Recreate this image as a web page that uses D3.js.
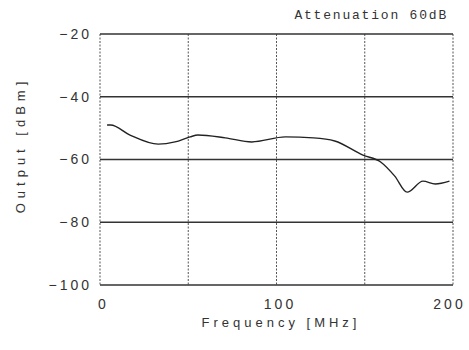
<!DOCTYPE html>
<html>
<head>
<meta charset="utf-8">
<script src="https://cdn.jsdelivr.net/npm/d3@7"></script>
<style>
  body { margin: 0; background: #fff; }
  svg { display: block; }
  .tick text { font-family: "Liberation Sans", sans-serif; fill: #333; }
</style>
</head>
<body>
<div id="chart"></div>
<script>
// curve (MHz, dBm)
const freq = [4, 6, 17, 33, 42.5, 51, 55.5, 71, 86, 105, 121, 133, 149, 159, 167, 174, 183, 190, 198];
const output = [-49.0, -49.0, -52.2, -55.1, -54.4, -52.8, -52.2, -53.1, -54.4, -52.8, -53.1, -54.1, -58.6, -60.8, -65.3, -70.4, -66.9, -67.8, -66.9];
const xTicks = [0, 100, 200];
const yTicks = [-20, -40, -60, -80, -100];
const xGrid = [0, 50, 100, 150, 200];

const width = 469, height = 350;
const margin = { top: 34, right: 16, bottom: 65, left: 100 };

const svg = d3.select('#chart').append('svg')
    .attr('width', width)
    .attr('height', height);

const x = d3.scaleLinear().domain([0, 200]).range([margin.left, width - margin.right]);
const y = d3.scaleLinear().domain([-100, -20]).range([height - margin.bottom, margin.top]);

// vertical grid (dotted)
svg.append('g')
    .selectAll('line')
    .data(xGrid)
    .enter().append('line')
    .attr('x1', d => x(d)).attr('x2', d => x(d))
    .attr('y1', y(-20)).attr('y2', y(-100))
    .attr('stroke', '#555')
    .attr('stroke-width', 1)
    .attr('stroke-dasharray', '2,1.5');

// horizontal grid (solid)
svg.append('g')
    .selectAll('line')
    .data(yTicks)
    .enter().append('line')
    .attr('x1', x(0)).attr('x2', x(200))
    .attr('y1', d => y(d)).attr('y2', d => y(d))
    .attr('stroke', '#333')
    .attr('stroke-width', 1.3);

// y axis labels
const yAxis = svg.append('g')
    .attr('transform', `translate(${x(0) - 8},0)`)
    .call(d3.axisLeft(y).tickValues(yTicks).tickSize(0).tickPadding(0)
        .tickFormat(d => '\u2212' + Math.abs(d)));
yAxis.select('.domain').remove();
yAxis.selectAll('text')
    .attr('font-size', 14)
    .attr('letter-spacing', '3px');

// x axis labels
const xAxis = svg.append('g')
    .attr('transform', `translate(0,${y(-100) + 14})`)
    .call(d3.axisBottom(x).tickValues(xTicks).tickSize(0).tickPadding(0));
xAxis.select('.domain').remove();
xAxis.selectAll('text')
    .attr('font-size', 14)
    .attr('letter-spacing', '3px')
    .attr('dx', d => d === 200 ? '-4px' : '3px');

// curve
const line = d3.line()
    .x((d, i) => x(freq[i]))
    .y(d => y(d))
    .curve(d3.curveMonotoneX);

svg.append('path')
    .datum(output)
    .attr('d', line)
    .attr('fill', 'none')
    .attr('stroke', '#222')
    .attr('stroke-width', 1.4);

// titles
svg.append('text')
    .attr('x', 448).attr('y', 19)
    .attr('text-anchor', 'end')
    .attr('font-family', '"Liberation Mono", monospace')
    .attr('font-size', 13)
    .attr('letter-spacing', '1.8px')
    .attr('fill', '#333')
    .text('Attenuation 60dB');

svg.append('text')
    .attr('x', 281).attr('y', 327)
    .attr('text-anchor', 'middle')
    .attr('font-family', '"Liberation Sans", sans-serif')
    .attr('font-size', 13)
    .attr('letter-spacing', '4px')
    .attr('fill', '#333')
    .text('Frequency  [MHz]');

svg.append('text')
    .attr('transform', 'translate(25,145) rotate(-90)')
    .attr('text-anchor', 'middle')
    .attr('font-family', '"Liberation Sans", sans-serif')
    .attr('font-size', 13)
    .attr('letter-spacing', '5px')
    .attr('fill', '#333')
    .text('Output  [dBm]');
</script>
</body>
</html>
